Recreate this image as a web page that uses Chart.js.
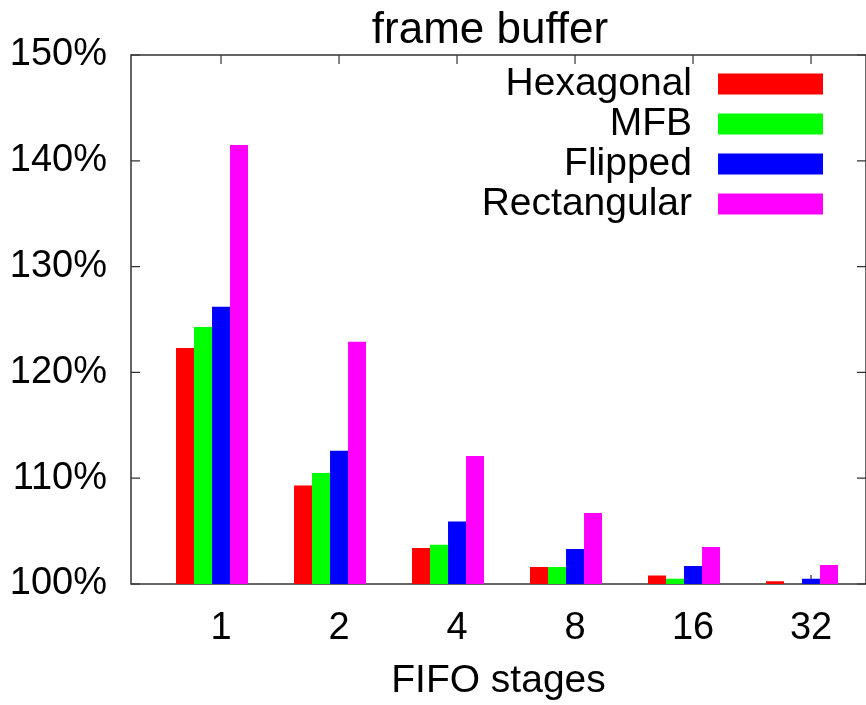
<!DOCTYPE html>
<html>
<head>
<meta charset="utf-8">
<script src="https://cdn.jsdelivr.net/npm/chart.js@4"></script>
<style>body{margin:0;background:#fff}</style>
</head>
<body>
<canvas id="myChart" width="866" height="705"></canvas>
<script>
const stages = ['1', '2', '4', '8', '16', '32'];
const hexagonal = [122.3, 109.3, 103.4, 101.6, 100.8, 100.25];
const mfb = [124.3, 110.5, 103.7, 101.6, 100.5, 100.0];
const flipped = [126.2, 112.6, 105.9, 103.3, 101.7, 100.5];
const rectangular = [141.5, 122.9, 112.1, 106.7, 103.5, 101.8];
const seriesNames = ['Hexagonal', 'MFB', 'Flipped', 'Rectangular'];
const seriesColors = ['#ff0000', '#00ff00', '#0000ff', '#ff00ff'];
const yTicks = [100, 110, 120, 130, 140, 150];

const FONT = 'Liberation Sans, Arial, Helvetica, sans-serif';
const FSIZE = 38;

const toPoints = vals => vals.map((v, i) => ({x: i, y: v}));

// gnuplot-style frame with inward ticks on all four sides
const frame = {
    id: 'frame',
    beforeDatasetsDraw(chart) {
        const {ctx, chartArea: a, scales: {x, y}} = chart;
        ctx.save();
        ctx.strokeStyle = '#333';
        ctx.lineWidth = 1.5;
        ctx.strokeRect(a.left, a.top, a.right - a.left, a.bottom - a.top);
        ctx.lineWidth = 1.2;
        ctx.beginPath();
        x.ticks.forEach(t => {
            const px = x.getPixelForValue(t.value);
            ctx.moveTo(px, a.top); ctx.lineTo(px, a.top + 9);
            ctx.moveTo(px, a.bottom); ctx.lineTo(px, a.bottom - 9);
        });
        y.ticks.forEach(t => {
            const py = y.getPixelForValue(t.value);
            ctx.moveTo(a.left, py); ctx.lineTo(a.left + 9, py);
            ctx.moveTo(a.right, py); ctx.lineTo(a.right - 9, py);
        });
        ctx.stroke();
        ctx.restore();
    },
    afterDraw(chart) {
        const ctx = chart.ctx;
        ctx.save();
        ctx.fillStyle = '#000';
        ctx.font = '44px ' + FONT;
        ctx.textBaseline = 'alphabetic';
        ctx.textAlign = 'center';
        ctx.fillText('frame buffer', 490, 43);
        ctx.font = '39px ' + FONT;
        ctx.textBaseline = 'middle';
        ctx.textAlign = 'right';
        chart.data.datasets.slice(0, seriesNames.length).forEach((ds, i) => {
            const cy = 84 + i * 40;
            ctx.fillStyle = '#000';
            ctx.fillText(ds.label, 692, cy);
            ctx.fillStyle = ds.backgroundColor;
            ctx.fillRect(718, cy - 10.5, 105, 21);
        });
        ctx.restore();
    }
};

const datasets = [hexagonal, mfb, flipped, rectangular].map((vals, i) => ({
    label: seriesNames[i],
    data: toPoints(vals),
    backgroundColor: seriesColors[i],
    borderWidth: 0
}));
// empty slot so clusters sit left of the tick, like gnuplot's gap
datasets.push({label: '', data: stages.map((s, i) => ({x: i, y: null})), backgroundColor: 'rgba(0,0,0,0)'});

new Chart(document.getElementById('myChart'), {
    type: 'bar',
    data: {datasets: datasets},
    options: {
        responsive: false,
        animation: false,
        devicePixelRatio: 1,
        layout: {padding: {top: 55, left: 0, right: 0, bottom: 0}},
        datasets: {bar: {categoryPercentage: 0.763, barPercentage: 1}},
        plugins: {legend: {display: false}, tooltip: {enabled: false}, title: {display: false}},
        scales: {
            x: {
                type: 'linear',
                offset: false,
                min: -0.763,
                max: 5.466,
                afterBuildTicks: scale => { scale.ticks = stages.map((s, i) => ({value: i})); },
                afterFit: scale => { scale.height = 121; },
                grid: {display: false, drawTicks: false},
                border: {display: false},
                ticks: {
                    callback: (v, i) => stages[i],
                    color: '#000',
                    font: {family: FONT, size: FSIZE},
                    padding: 22,
                    maxRotation: 0,
                    autoSkip: false
                },
                title: {
                    display: true,
                    text: 'FIFO stages',
                    color: '#000',
                    font: {family: FONT, size: 39},
                    padding: {top: 0, bottom: 0}
                }
            },
            y: {
                min: 100,
                max: 150,
                afterBuildTicks: scale => { scale.ticks = yTicks.map(v => ({value: v})); },
                afterFit: scale => { scale.width = 131; },
                grid: {display: false, drawTicks: false},
                border: {display: false},
                ticks: {
                    callback: v => v + '%',
                    color: '#000',
                    font: {family: FONT, size: FSIZE},
                    padding: 24
                }
            }
        }
    },
    plugins: [frame]
});
</script>
</body>
</html>
